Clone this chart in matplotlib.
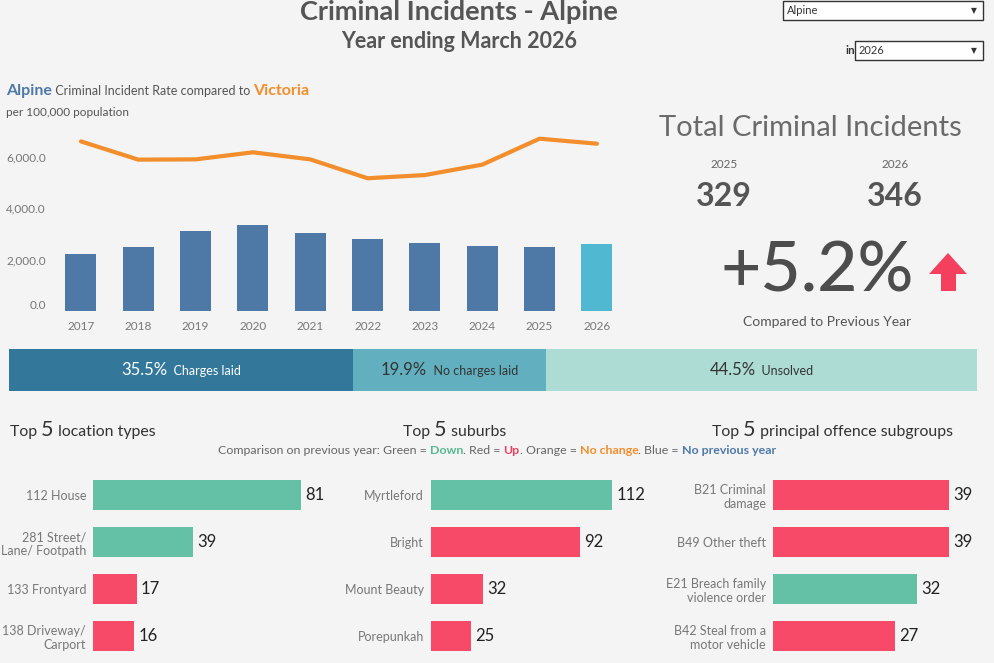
import matplotlib.pyplot as plt
from matplotlib.offsetbox import TextArea, HPacker, AnnotationBbox
from matplotlib.patches import Rectangle, Polygon

W, H = 995, 663
BG = "#f4f4f4"
FONT = "Lato"
plt.rcParams["font.family"] = [FONT, "DejaVu Sans"]

# Rate per 100,000 population
years = [2017, 2018, 2019, 2020, 2021, 2022, 2023, 2024, 2025, 2026]
alpine_rate = [2220, 2490, 3110, 3345, 3035, 2800, 2645, 2530, 2490, 2610]
victoria_rate = [6600, 5890, 5900, 6175, 5900, 5165, 5290, 5695, 6705, 6510]

incidents_prev = 329
incidents_curr = 346

outcome_labels = ["Charges laid", "No charges laid", "Unsolved"]
outcome_pct = [35.5, 19.9, 44.5]

location_types = ["112 House", "281 Street/\nLane/ Footpath", "133 Frontyard", "138 Driveway/\nCarport"]
location_counts = [81, 39, 17, 16]
location_change = ["down", "down", "up", "up"]

suburbs = ["Myrtleford", "Bright", "Mount Beauty", "Porepunkah"]
suburb_counts = [112, 92, 32, 25]
suburb_change = ["down", "up", "up", "up"]

offences = ["B21 Criminal\ndamage", "B49 Other theft", "E21 Breach family\nviolence order",
            "B42 Steal from a\nmotor vehicle"]
offence_counts = [39, 39, 32, 27]
offence_change = ["up", "up", "down", "up"]

CHANGE_COLORS = {"down": "#65c1a6", "up": "#f74a69", "same": "#f28e2b", "new": "#4e79a7"}

fig = plt.figure(figsize=(W / 100, H / 100), dpi=100, facecolor=BG)


def axes_px(x0, y0, x1, y1):
    ax = fig.add_axes([x0 / W, 1 - y1 / H, (x1 - x0) / W, (y1 - y0) / H])
    ax.set_facecolor("none")
    for s in ax.spines.values():
        s.set_visible(False)
    return ax


def text_px(x, y, s, **kw):
    kw.setdefault("va", "center")
    kw.setdefault("ha", "center")
    return fig.text(x / W, 1 - y / H, s, **kw)


def rich(x, y, parts, ha="left", ax=None):
    # parts: list of (string, textprops)
    areas = [TextArea(s, textprops=p) for s, p in parts]
    box = HPacker(children=areas, align="baseline", pad=0, sep=0)
    bx = {"left": 0, "center": 0.5, "right": 1}[ha]
    if ax is None:
        ab = AnnotationBbox(box, (x / W, 1 - y / H), xycoords="figure fraction",
                            box_alignment=(bx, 0.5), frameon=False, pad=0)
        fig.add_artist(ab)
    else:
        ab = AnnotationBbox(box, (x, y), xycoords="data",
                            box_alignment=(bx, 0.5), frameon=False, pad=0)
        ax.add_artist(ab)
    return ab


# Titles
text_px(459, 12, "Criminal Incidents - Alpine", fontsize=19.5, fontweight="bold", color="#555555")
text_px(459, 41, "Year ending March 2026", fontsize=15.5, fontweight="bold", color="#555555")

# Dropdowns
for (x0, y0, x1, y1, label) in [(783, 1, 983, 20, "Alpine"), (855, 41, 983, 60, "2026")]:
    fig.add_artist(Rectangle((x0 / W, 1 - y1 / H), (x1 - x0) / W, (y1 - y0) / H,
                             transform=fig.transFigure, facecolor="white", edgecolor="#333333", lw=1))
    text_px(x0 + 4, (y0 + y1) / 2, label, ha="left", fontsize=8, color="#333333")
    text_px(x1 - 9, (y0 + y1) / 2, "\u25bc", fontsize=5.5, color="#333333", family="DejaVu Sans")
text_px(850, 50, "in", fontsize=8.5, fontweight="bold", color="#333333")

# Rate chart header
rich(6, 91, [("Alpine", dict(fontsize=11.5, fontweight="bold", color="#4e79a7")),
             (" Criminal Incident Rate compared to ", dict(fontsize=9, color="#555555")),
             ("Victoria", dict(fontsize=11.5, fontweight="bold", color="#f28e2b"))])
text_px(6, 112, "per 100,000 population", ha="left", fontsize=8.5, color="#555555")

# Rate chart
ax = axes_px(50, 130, 625, 311)
bar_colors = ["#4e79a7"] * (len(years) - 1) + ["#50b8d0"]
ax.bar(years, alpine_rate, width=0.54, color=bar_colors, zorder=2)
ax.plot(years, victoria_rate, color="#f28e2b", lw=3, zorder=3, solid_capstyle="round")
ax.set_xlim(2016.46, 2026.49)
ax.set_ylim(0, 7043)
ax.set_yticks([0, 2000, 4000, 6000], [f"{v:,.1f}" for v in [0, 2000, 4000, 6000]])
ax.set_xticks(years, [str(y) for y in years])
ax.tick_params(axis="both", length=0, labelsize=8.5, labelcolor="#777777")
ax.tick_params(axis="y", pad=3)
ax.tick_params(axis="x", pad=7)
ax.yaxis.get_major_ticks()[0].label1.set_verticalalignment("bottom")

# Totals panel
text_px(810, 128, "Total Criminal Incidents", fontsize=21, fontweight="normal", color="#6a6a6a")
for x, yr, val in [(724, 2025, incidents_prev), (895, 2026, incidents_curr)]:
    text_px(x, 165, str(yr), fontsize=8.5, color="#666666")
    text_px(x, 196, str(val), fontsize=23, fontweight="bold", color="#555555")
pct_change = (incidents_curr - incidents_prev) / incidents_prev * 100
text_px(817, 272, f"{pct_change:+.1f}%", fontsize=50, fontweight="medium", color="#4d4d4d")
text_px(827, 322, "Compared to Previous Year", fontsize=10, color="#555555")
arrow_px = [(948, 253), (967, 274), (956, 274), (956, 291), (941, 291), (941, 274), (929, 274)]
fig.add_artist(Polygon([(x / W, 1 - y / H) for x, y in arrow_px], closed=True,
                       transform=fig.transFigure, facecolor="#f43f5e", edgecolor="none"))

# Outcome stacked bar
ax = axes_px(9, 349, 977, 391)
outcome_colors = ["#33789b", "#62b0bf", "#acdcd3"]
outcome_text = ["white", "#333333", "#333333"]
left = 0
for lab, pct, c, tc in zip(outcome_labels, outcome_pct, outcome_colors, outcome_text):
    ax.barh(0, pct, left=left, height=1, color=c)
    rich(left + pct / 2, 0, [(f"{pct:.1f}%", dict(fontsize=12, color=tc)),
                             ("  " + lab, dict(fontsize=9, color=tc))], ha="center", ax=ax)
    left += pct
ax.set_xlim(0, sum(outcome_pct))
ax.set_ylim(-0.5, 0.5)
ax.set_xticks([])
ax.set_yticks([])

# Section headers
for x, rest in [(10, " location types"), (403, " suburbs"), (712, " principal offence subgroups")]:
    rich(x, 430, [("Top ", dict(fontsize=11.4, color="#333333")),
                  ("5", dict(fontsize=15.5, color="#333333")),
                  (rest, dict(fontsize=11.4, color="#333333"))])

legend_parts = [("Comparison on previous year: Green = ", "#666666", "normal"),
                ("Down", "#59b891", "bold"),
                (". Red = ", "#666666", "normal"),
                ("Up", "#e84060", "bold"),
                (". Orange = ", "#666666", "normal"),
                ("No change", "#f28e2b", "bold"),
                (". Blue = ", "#666666", "normal"),
                ("No previous year", "#4e79a7", "bold")]
rich(497, 451, [(s, dict(fontsize=8.9, color=c, fontweight=w)) for s, c, w in legend_parts],
     ha="center")


def hbar_panel(x0, x1, px_per_unit, labels, values, changes):
    ax = axes_px(x0, 470, x1, 663)
    rows = list(range(len(values)))
    ax.barh(rows, values, height=0.64, color=[CHANGE_COLORS[c] for c in changes])
    ax.set_xlim(0, (x1 - x0) / px_per_unit)
    ax.set_ylim((663 - 495) / 47, (470 - 495) / 47)
    ax.set_yticks(rows, labels)
    ax.set_xticks([])
    ax.tick_params(axis="y", length=0, pad=5, labelsize=9, labelcolor="#777777")
    for r, v in zip(rows, values):
        ax.annotate(str(v), (v, r), xytext=(3, 0), textcoords="offset points",
                    va="center", ha="left", fontsize=12, color="#222222")


hbar_panel(93, 340, 2.57, location_types, location_counts, location_change)
hbar_panel(431, 680, 1.616, suburbs, suburb_counts, suburb_change)
hbar_panel(773, 995, 4.51, offences, offence_counts, offence_change)

fig.savefig("out.png", dpi=100, facecolor=BG)
